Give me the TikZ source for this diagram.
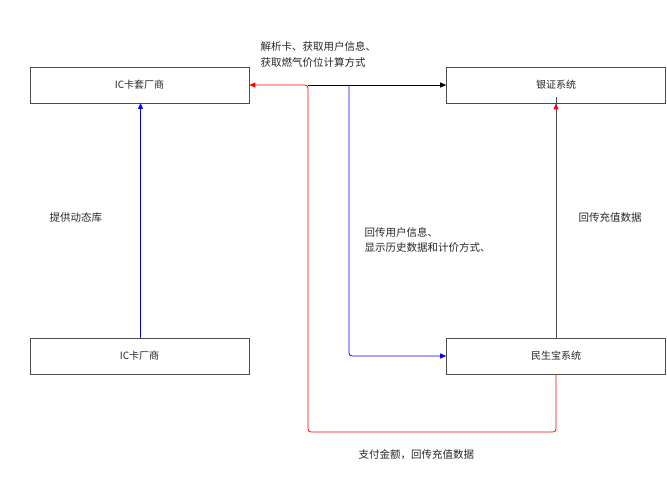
\documentclass[tikz,border=0pt]{standalone}
\usepackage{fontspec}
\setmainfont{Noto Sans CJK SC}
\usetikzlibrary{arrows.meta}
\begin{document}
\begin{tikzpicture}[x=1pt,y=-1pt,
  box/.style={draw=black!70,line width=0.6pt,minimum width=219pt,minimum height=36pt,inner sep=0pt,font=\fontsize{10}{12}\selectfont,text=black!85},
  lbl/.style={font=\fontsize{10.5}{16}\selectfont,align=left,anchor=west,text=black!85},
  con/.style={line width=0.8pt,rounded corners=3pt},
  tip/.style={-{Triangle[length=6pt,width=5pt]}}]
\useasboundingbox (0,0) rectangle (667,481);
\node[box] (a) at (139.5,85) {IC卡套厂商};
\node[box] (b) at (556,85) {银证系统};
\node[box] (c) at (139.5,356) {IC卡厂商};
\node[box] (d) at (556,356) {民生宝系统};
\coordinate (j1) at (308,85);
\coordinate (j2) at (349,85);
\coordinate (cn) at (140.5,338);
\coordinate (as) at (140.5,103);
\draw[con,draw=blue,tip] (cn) -- (as);
\draw[con,draw=black,tip] (j1) -- (b.west);
\draw[con,draw=red,tip] (d.south) |- (308,432) -- (j1) -- (a.east);
\draw[con,draw=blue,tip] (j2) |- (d.west);
\draw[con,draw=black!70] (d.north) -- ([yshift=6pt]b.south);
\fill[red] (b.south) -- ++(-2.5,6) -- ++(5,0) -- cycle;
\node[lbl] (t1) at (257,55) {解析卡、获取用户信息、\\获取燃气价位计算方式};
\node[lbl] (t2) at (46,218) {提供动态库};
\node[lbl] (t3) at (361,240) {回传用户信息、\\显示历史数据和计价方式、};
\node[lbl] (t4) at (575,218) {回传充值数据};
\node[lbl] (t5) at (355,455) {支付金额，回传充值数据};
\end{tikzpicture}
\end{document}
